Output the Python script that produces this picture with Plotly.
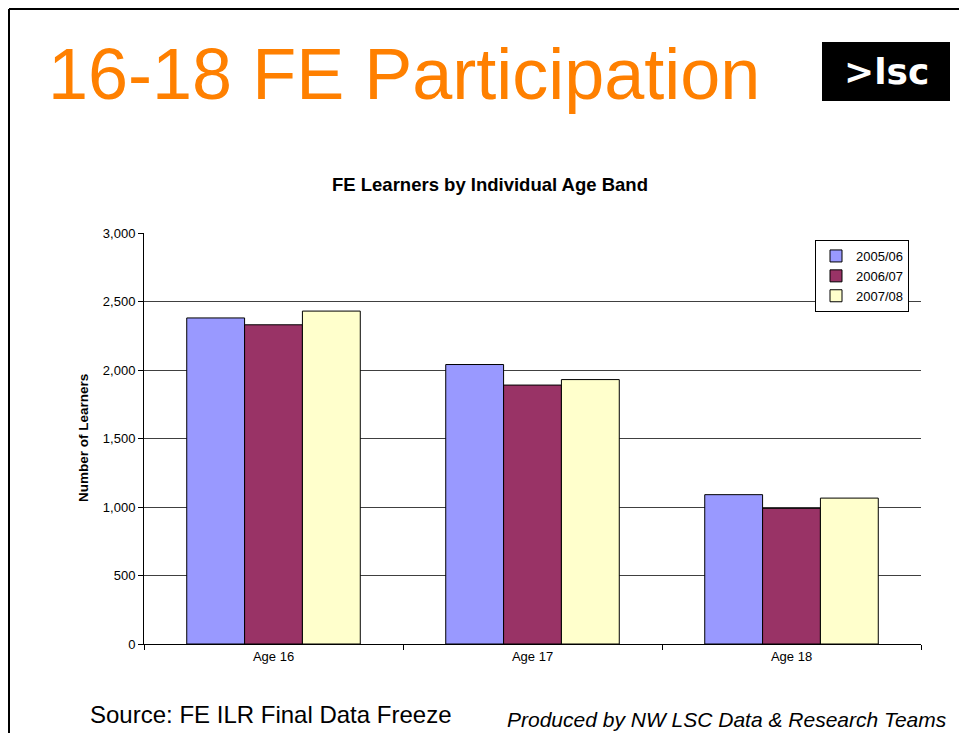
import plotly.graph_objects as go

categories = ["Age 16", "Age 17", "Age 18"]
series_names = ["2005/06", "2006/07", "2007/08"]
values_0506 = [2380, 2040, 1090]
values_0607 = [2330, 1890, 990]
values_0708 = [2430, 1930, 1065]
colors = ["#9999FF", "#993366", "#FFFFCC"]
y_ticks = [0, 500, 1000, 1500, 2000, 2500, 3000]

# page has an 8px body margin; work in page pixels and convert
OFF = 8
W, H = 967 - OFF, 733 - OFF
L, T = 144 - OFF, 233 - OFF
R = W - (921 - OFF)
B = H - (644 - OFF)
PW, PH = W - L - R, H - T - B

def px(x):
    return (x - OFF - L) / PW

def py(y):
    return (H - B - (y - OFF)) / PH

fig = go.Figure()
for name, vals, col in zip(series_names, [values_0506, values_0607, values_0708], colors):
    fig.add_trace(go.Bar(
        x=categories, y=vals, name=name,
        marker=dict(color=col, line=dict(color="#000000", width=1)),
    ))

fig.update_layout(
    width=W, height=H,
    margin=dict(l=L, r=R, t=T, b=B),
    paper_bgcolor="white", plot_bgcolor="white",
    barmode="group", bargap=0.33, bargroupgap=0,
    font=dict(family="Liberation Sans, Arial, sans-serif", size=13, color="#000000"),
    showlegend=True,
    legend=dict(
        x=px(815), y=py(240), xanchor="left", yanchor="top",
        bordercolor="#000000", borderwidth=1, bgcolor="white",
        font=dict(size=13), tracegroupgap=0, itemwidth=30,
    ),
    xaxis=dict(
        showline=True, linecolor="#000000", linewidth=1,
        ticks="outside", ticklen=5, tickcolor="#000000", tickson="boundaries",
        showgrid=False, tickfont=dict(size=13),
    ),
    yaxis=dict(
        range=[0, 3000], tickvals=y_ticks, tickformat=",d",
        showline=True, linecolor="#000000", linewidth=1,
        ticks="outside", ticklen=5, tickcolor="#000000",
        showgrid=True, gridcolor="#404040", gridwidth=1,
        zeroline=False, tickfont=dict(size=13),
    ),
)

annotations = [
    dict(text="16-18 FE Participation", x=px(46), y=py(74), xanchor="left", yanchor="middle",
         font=dict(size=72, color="#FF8000", family="Liberation Sans, Arial, sans-serif")),
    dict(text="<b>&gt;lsc</b>", x=px(886), y=py(72), xanchor="center", yanchor="middle",
         font=dict(size=36, color="#FFFFFF", family="DejaVu Sans, sans-serif")),
    dict(text="<b>FE Learners by Individual Age Band</b>", x=px(490), y=py(185),
         xanchor="center", yanchor="middle", font=dict(size=18.5)),
    dict(text="<b>Number of Learners</b>", x=px(83), y=py(438), textangle=-90,
         xanchor="center", yanchor="middle", font=dict(size=13.5)),
    dict(text="Source: FE ILR Final Data Freeze", x=px(88), y=py(714), xanchor="left",
         yanchor="middle", font=dict(size=24)),
    dict(text="<i>Produced by NW LSC Data &amp; Research Teams</i>", x=px(505), y=py(719),
         xanchor="left", yanchor="middle", font=dict(size=21)),
]
for a in annotations:
    a.update(xref="paper", yref="paper", showarrow=False)
fig.update_layout(annotations=annotations)

shapes = [
    dict(type="rect", x0=px(822), x1=px(950), y0=py(42), y1=py(101),
         fillcolor="#000000", line=dict(width=0), layer="below"),
    dict(type="line", x0=px(9), x1=px(9), y0=py(9), y1=py(745), line=dict(color="#000000", width=2)),
    dict(type="line", x0=px(9), x1=px(962), y0=py(9), y1=py(9), line=dict(color="#000000", width=2)),
]
for s in shapes:
    s.update(xref="paper", yref="paper")
fig.update_layout(shapes=shapes)

fig.write_html("out.html")
